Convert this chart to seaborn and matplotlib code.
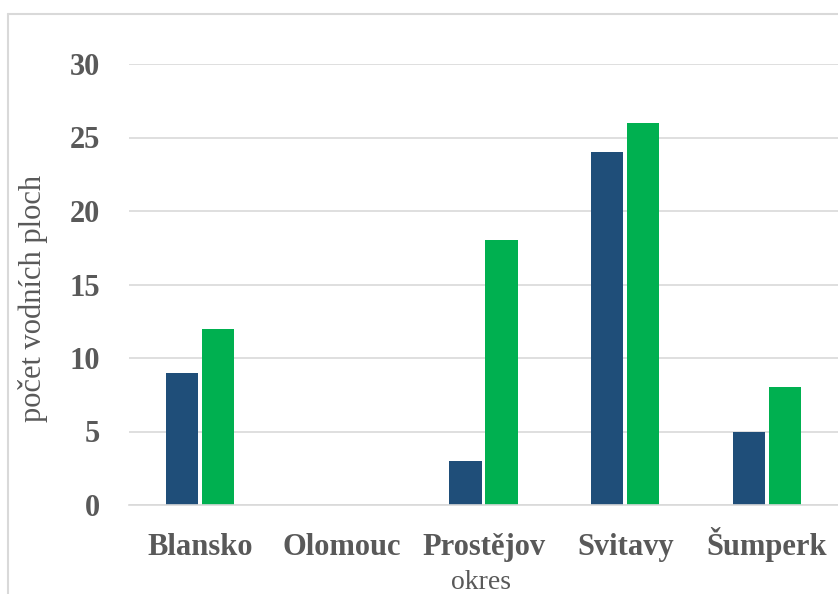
import matplotlib
matplotlib.use("Agg")
import matplotlib.pyplot as plt
from matplotlib.lines import Line2D
import pandas as pd
import seaborn as sns

okresy = ["Blansko", "Olomouc", "Prostějov", "Svitavy", "Šumperk"]
rada_1 = [9, 0, 3, 24, 5]
rada_2 = [12, 0, 18, 26, 8]
serie = ["řada 1", "řada 2"]
barvy = ["#1F4E79", "#00B050"]
y_ticks = [0, 5, 10, 15, 20, 25, 30]

df = pd.DataFrame({
    "okres": okresy * 2,
    "série": [serie[0]] * len(okresy) + [serie[1]] * len(okresy),
    "počet": rada_1 + rada_2,
})

sns.set_style("white")
plt.rcParams["font.family"] = ["Liberation Serif", "DejaVu Serif"]

W, H = 838, 594
fig = plt.figure(figsize=(W / 100, H / 100), dpi=100)
ax = fig.add_axes([129 / W, (H - 505) / H, (838 - 129) / W, (505 - 64) / H])

sns.barplot(data=df, x="okres", y="počet", hue="série", order=okresy,
            hue_order=serie, palette=barvy, saturation=1, width=0.51,
            gap=0.11, linewidth=0, legend=False, ax=ax)

ax.set_ylim(0, 30)
ax.set_xlim(-0.5, len(okresy) - 0.5)
ax.set_yticks(y_ticks)
ax.yaxis.grid(True, color="#D9D9D9", linewidth=1.2)
ax.set_axisbelow(True)
for s in ["top", "right", "left"]:
    ax.spines[s].set_visible(False)
ax.spines["bottom"].set_color("#D9D9D9")
ax.spines["bottom"].set_linewidth(1.2)

ax.tick_params(axis="both", length=0, labelcolor="#595959")
ax.tick_params(axis="y", pad=21)
ax.tick_params(axis="x", pad=36)
for lab in ax.get_xticklabels() + ax.get_yticklabels():
    lab.set_fontsize(22)
    lab.set_fontweight("bold")
# align category names on a common baseline
for lab in ax.get_xticklabels():
    lab.set_verticalalignment("baseline")

ax.set_xlabel("okres", fontsize=20, color="#595959")
ax.set_ylabel("počet vodních ploch", fontsize=22, color="#595959")
ax.xaxis.set_label_coords(0.497, -0.147)
ax.yaxis.set_label_coords(-0.114, 0.469)

# chart area frame (left and top edges visible)
frame_col = "#D9D9D9"
fig.add_artist(Line2D([8 / W, 8 / W], [0, (H - 14) / H], color=frame_col,
                      linewidth=1.5, transform=fig.transFigure))
fig.add_artist(Line2D([8 / W, 1], [(H - 14) / H, (H - 14) / H], color=frame_col,
                      linewidth=1.5, transform=fig.transFigure))

fig.savefig("out.png", dpi=100, facecolor="white")
